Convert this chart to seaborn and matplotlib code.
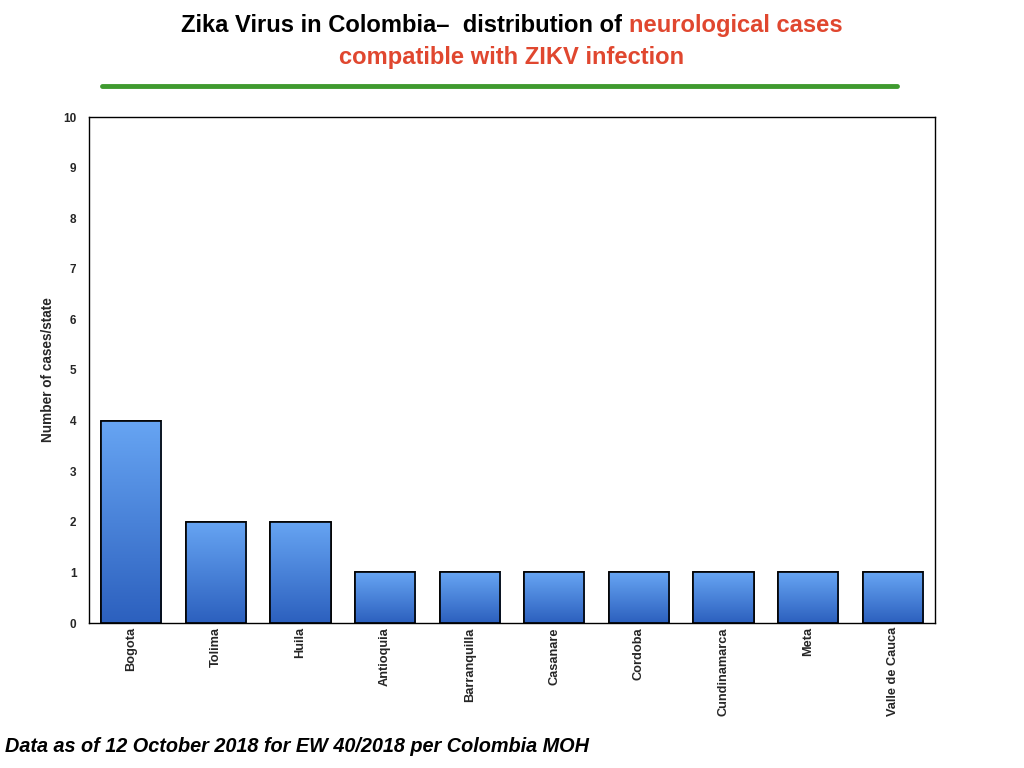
import matplotlib
matplotlib.use("Agg")
import matplotlib.pyplot as plt
import seaborn as sns
import numpy as np
import pandas as pd
from matplotlib.colors import LinearSegmentedColormap

states = ["Bogota", "Tolima", "Huila", "Antioquia", "Barranquilla", "Casanare",
          "Cordoba", "Cundinamarca", "Meta", "Valle de Cauca"]
cases = [4, 2, 2, 1, 1, 1, 1, 1, 1, 1]
y_ticks = [0, 1, 2, 3, 4, 5, 6, 7, 8, 9, 10]

sns.set_theme(style="white")
plt.rcParams['font.family'] = ['Liberation Sans', 'DejaVu Sans']

df = pd.DataFrame({"state": states, "cases": cases})

fig = plt.figure(figsize=(10.24, 7.68), dpi=100)
ax = fig.add_axes([89/1024, 1-623/768, (935-89)/1024, (623-117)/768])

sns.barplot(data=df, x="state", y="cases", ax=ax, color="#4A86DC",
            width=0.71, edgecolor="black", linewidth=1.2, saturation=1)

cmap = LinearSegmentedColormap.from_list("g", ["#2C60BE", "#67A5F3"])
grad = np.linspace(0, 1, 256).reshape(-1, 1)
for p in ax.patches:
    x0, y0 = p.get_x(), p.get_y()
    w, h = p.get_width(), p.get_height()
    im = ax.imshow(grad, cmap=cmap, aspect="auto", origin="lower",
                   extent=[x0, x0 + w, y0, y0 + h], zorder=p.get_zorder() + 0.1)
    im.set_clip_path(p)
    ax.add_patch(plt.Rectangle((x0, y0), w, h, fill=False, edgecolor="black",
                               linewidth=1.2, zorder=p.get_zorder() + 0.2))

ax.set_xlim(-0.5, len(states) - 0.5)
ax.set_ylim(0, 10)
ax.set_yticks(y_ticks)
ax.set_yticklabels([str(t) for t in y_ticks], fontsize=8.5, fontweight="bold")
ax.set_xticks(range(len(states)))
ax.set_xticklabels(states, rotation=90, fontsize=9.2, fontweight="bold", va="top")
ax.tick_params(axis="both", length=0)
ax.tick_params(axis="y", pad=9)
ax.tick_params(axis="x", pad=3)
ax.set_xlabel("")
ax.set_ylabel("Number of cases/state", fontsize=9.8, fontweight="bold", labelpad=6)
for s in ax.spines.values():
    s.set_visible(True)
    s.set_color("black")
    s.set_linewidth(1.0)

# Title (two colours)
red = "#E0472F"
fs = 17.1
ty = 1 - 32/768
t1 = fig.text(0.5, ty, "Zika Virus in Colombia\u2013  distribution of ",
              fontsize=fs, fontweight="bold", color="black", ha="right", va="baseline")
fig.canvas.draw()
r = fig.canvas.get_renderer()
bb1 = t1.get_window_extent(r)
t2 = fig.text(0, ty, "neurological cases", fontsize=fs, fontweight="bold",
              color=red, ha="left", va="baseline")
bb2 = t2.get_window_extent(r)
total = bb1.width + bb2.width
start = (1024 - total) / 2
t1.set_position(((start + bb1.width) / 1024, ty))
t2.set_position(((start + bb1.width) / 1024, ty))
fig.text(0.5, 1 - 64/768, "compatible with ZIKV infection", fontsize=fs,
         fontweight="bold", color=red, ha="center", va="baseline")

fig.add_artist(plt.Line2D([102/1024, 897/1024], [1 - 86/768, 1 - 86/768],
                          color="#3F9A2F", linewidth=3.5, transform=fig.transFigure))

fig.text(5/1024, 1 - 746/768, "Data as of 12 October 2018 for EW 40/2018 per Colombia MOH",
         fontsize=14.3, fontweight="bold", fontstyle="italic", color="black",
         ha="left", va="center")

fig.savefig("out.png", dpi=100)
